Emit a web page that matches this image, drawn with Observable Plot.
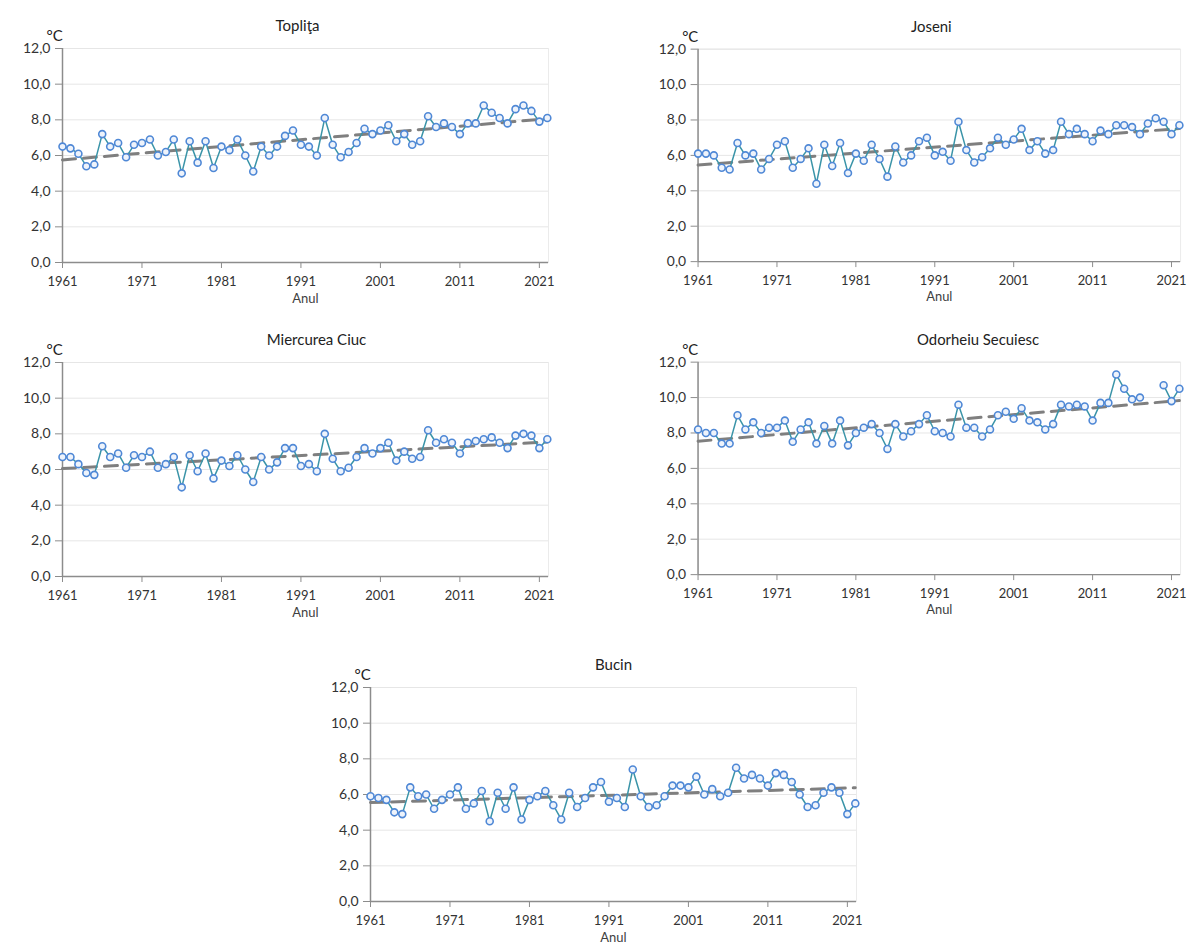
<!DOCTYPE html>
<html><head><meta charset="utf-8">
<script src="https://cdn.jsdelivr.net/npm/d3@7"></script>
<script src="https://cdn.jsdelivr.net/npm/@observablehq/plot@0.6"></script>
<style>
body{margin:0;background:#fff;}
#wrap{position:relative;width:1192px;height:947px;overflow:hidden;font-family:Lato,"Open Sans",sans-serif;}
.panel{position:absolute;}
</style></head><body><div id="wrap"></div>
<script>
// ---- data ----
const years = d3.range(1961, 2023);
const xTicks = [1961, 1971, 1981, 1991, 2001, 2011, 2021];
const yTicks = [0, 2, 4, 6, 8, 10, 12];
const stations = ["Topliţa", "Joseni", "Miercurea Ciuc", "Odorheiu Secuiesc", "Bucin"];
const yLabel = "°C";
const xLabel = "Anul";

const toplita = [6.5,6.4,6.1,5.4,5.5,7.2,6.5,6.7,5.9,6.6,
                 6.7,6.9,6.0,6.2,6.9,5.0,6.8,5.6,6.8,5.3,
                 6.5,6.3,6.9,6.0,5.1,6.5,6.0,6.5,7.1,7.4,
                 6.6,6.5,6.0,8.1,6.6,5.9,6.2,6.7,7.5,7.2,
                 7.4,7.7,6.8,7.2,6.6,6.8,8.2,7.6,7.8,7.6,
                 7.2,7.8,7.8,8.8,8.4,8.1,7.8,8.6,8.8,8.5,
                 7.9,8.1];
const joseni = [6.1,6.1,6.0,5.3,5.2,6.7,6.0,6.1,5.2,5.8,
                6.6,6.8,5.3,5.8,6.4,4.4,6.6,5.4,6.7,5.0,
                6.1,5.7,6.6,5.8,4.8,6.5,5.6,6.0,6.8,7.0,
                6.0,6.2,5.7,7.9,6.3,5.6,5.9,6.4,7.0,6.6,
                6.9,7.5,6.3,6.8,6.1,6.3,7.9,7.2,7.5,7.2,
                6.8,7.4,7.2,7.7,7.7,7.6,7.2,7.8,8.1,7.9,
                7.2,7.7];
const miercureaCiuc = [6.7,6.7,6.3,5.8,5.7,7.3,6.7,6.9,6.1,6.8,
                       6.7,7.0,6.1,6.3,6.7,5.0,6.8,5.9,6.9,5.5,
                       6.5,6.2,6.8,6.0,5.3,6.7,6.0,6.4,7.2,7.2,
                       6.2,6.3,5.9,8.0,6.6,5.9,6.1,6.7,7.2,6.9,
                       7.2,7.5,6.5,7.0,6.6,6.7,8.2,7.5,7.7,7.5,
                       6.9,7.5,7.6,7.7,7.8,7.5,7.2,7.9,8.0,7.9,
                       7.2,7.7];
const odorheiu = [8.2,8.0,8.0,7.4,7.4,9.0,8.2,8.6,8.0,8.3,
                  8.3,8.7,7.5,8.2,8.6,7.4,8.4,7.4,8.7,7.3,
                  8.0,8.3,8.5,8.0,7.1,8.5,7.8,8.1,8.5,9.0,
                  8.1,8.0,7.8,9.6,8.3,8.3,7.8,8.2,9.0,9.2,
                  8.8,9.4,8.7,8.6,8.2,8.5,9.6,9.5,9.6,9.5,
                  8.7,9.7,9.7,11.3,10.5,9.9,10.0,null,null,10.7,
                  9.8,10.5];
const bucin = [5.9,5.8,5.7,5.0,4.9,6.4,5.9,6.0,5.2,5.7,
               6.0,6.4,5.2,5.5,6.2,4.5,6.1,5.2,6.4,4.6,
               5.7,5.9,6.2,5.4,4.6,6.1,5.3,5.8,6.4,6.7,
               5.6,5.8,5.3,7.4,5.9,5.3,5.4,5.9,6.5,6.5,
               6.4,7.0,6.0,6.3,5.9,6.1,7.5,6.9,7.1,6.9,
               6.5,7.2,7.1,6.7,6.0,5.3,5.4,6.1,6.4,6.1,
               4.9,5.5];
const series = [toplita, joseni, miercureaCiuc, odorheiu, bucin];

// ---- layout ----
const panelLeft = [0, 636, 0, 636, 308];
const panelTop = [0, 1, 314, 314, 639];
const titleDx = [-8, -8, 11, 39, 0];

const fmtY = v => v.toFixed(1).replace(".", ",");

function panel(title, values, tdx) {
  const data = years.map((year, i) => ({year, value: values[i]}));
  const valid = data.filter(d => d.value != null);
  return Plot.plot({
    width: 560, height: 315,
    marginLeft: 62, marginRight: 12, marginTop: 48, marginBottom: 53,
    style: {fontFamily: "Lato, 'Open Sans', sans-serif", fontSize: "13px", color: "#333", background: "transparent"},
    x: {domain: [1961, 2022.15]},
    y: {domain: [0, 12]},
    marks: [
      Plot.frame({stroke: "#ebebeb"}),
      Plot.gridY(yTicks.filter(v => v > 0), {stroke: "#e6e6e6", strokeOpacity: 1}),
      Plot.axisY({ticks: yTicks, tickFormat: fmtY, tickSize: 7, tickPadding: 5, fontSize: 14, label: null, stroke: "#8c8c8c"}),
      Plot.axisX({ticks: xTicks, tickFormat: "d", tickSize: 6, tickPadding: 8, fontSize: 13, label: null, stroke: "#8c8c8c"}),
      Plot.ruleX([1961], {stroke: "#8c8c8c", strokeWidth: 1.5}),
      Plot.ruleY([0], {stroke: "#8c8c8c", strokeWidth: 1.5}),
      Plot.linearRegressionY(valid, {x: "year", y: "value", stroke: "#7f7f7f", strokeWidth: 3, strokeDasharray: "13,8", ci: 0}),
      Plot.line(data, {x: "year", y: "value", stroke: "#3a94a8", strokeWidth: 1.5}),
      Plot.dot(valid, {x: "year", y: "value", r: 3.5, stroke: "#4f88d6", fill: "#eef3fb", strokeWidth: 1.6}),
      Plot.text([title], {frameAnchor: "top", dx: tdx, dy: -28, fontSize: 15, fontWeight: 400, fill: "#222", text: d => d}),
      Plot.text([yLabel], {frameAnchor: "top-left", dx: -16, dy: -18, fontSize: 15, fill: "#222", text: d => d}),
      Plot.text([xLabel], {frameAnchor: "bottom", dy: 40, fontSize: 13, fill: "#404040", text: d => d})
    ]
  });
}

const wrap = document.getElementById("wrap");
stations.forEach((name, i) => {
  const div = document.createElement("div");
  div.className = "panel";
  div.style.left = panelLeft[i] + "px";
  div.style.top = panelTop[i] + "px";
  div.appendChild(panel(name, series[i], titleDx[i]));
  wrap.appendChild(div);
});
</script></body></html>
